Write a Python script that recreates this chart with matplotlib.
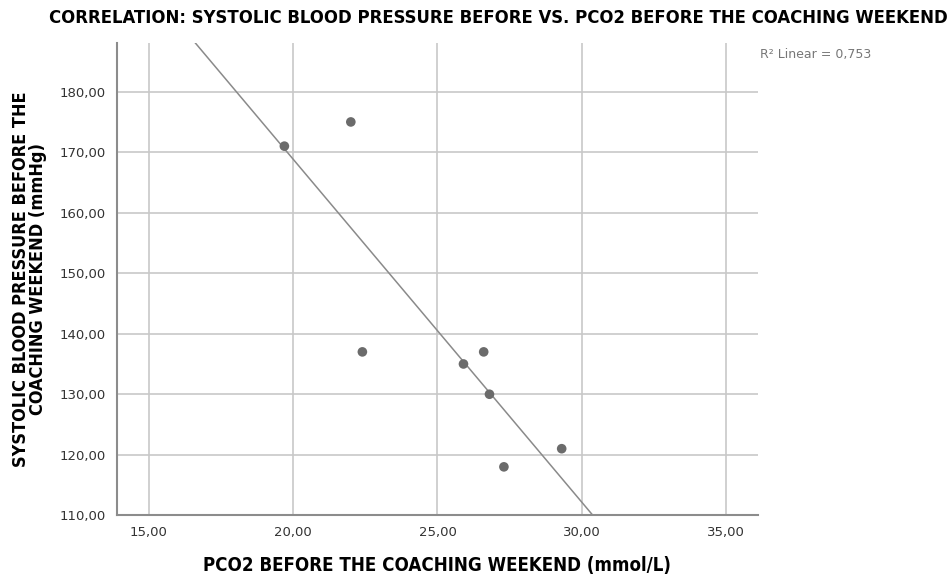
import numpy as np
import matplotlib.pyplot as plt
from matplotlib.ticker import FuncFormatter

# PCO2 (mmol/L) and systolic BP (mmHg) before the coaching weekend
pco2 = [19.7, 22.0, 22.4, 25.9, 26.6, 26.8, 29.3, 27.3]
sbp = [171, 175, 137, 135, 137, 130, 121, 118]
x_ticks = [15, 20, 25, 30, 35]
y_ticks = [110, 120, 130, 140, 150, 160, 170, 180]

x = np.array(pco2)
y = np.array(sbp)
slope, intercept = np.polyfit(x, y, 1)
r2 = np.corrcoef(x, y)[0, 1] ** 2

fig = plt.figure(figsize=(9.5, 5.77), dpi=100)
ax = fig.add_axes([0.123, 0.107, 0.675, 0.818])
xmin, xmax = 13.9, 36.1
ax.set_xlim(xmin, xmax)
ax.set_ylim(110, 188)

ax.grid(True, color='#c8c8c8', linewidth=1.2)
ax.set_axisbelow(True)
for s in ['top', 'right']:
    ax.spines[s].set_visible(False)
for s in ['left', 'bottom']:
    ax.spines[s].set_color('#8c8c8c')
    ax.spines[s].set_linewidth(1.5)

xs = np.array([xmin, xmax])
ax.plot(xs, slope * xs + intercept, color='#8a8a8a', linewidth=1.1, zorder=2)
ax.scatter(x, y, s=48, color='#6b6b6b', zorder=3, edgecolors='none')

comma = FuncFormatter(lambda v, p: f'{v:.2f}'.replace('.', ','))
ax.set_xticks(x_ticks)
ax.set_yticks(y_ticks)
ax.xaxis.set_major_formatter(comma)
ax.yaxis.set_major_formatter(comma)
ax.tick_params(length=0, labelsize=9.5, labelcolor='#333333', pad=8)

ax.set_xlabel('PCO2 BEFORE THE COACHING WEEKEND (mmol/L)', fontsize=13.4,
              fontweight='bold', fontstretch='condensed', labelpad=12)
ax.set_ylabel('SYSTOLIC BLOOD PRESSURE BEFORE THE\nCOACHING WEEKEND (mmHg)',
              fontsize=13, fontweight='bold', fontstretch='condensed',
              labelpad=9, linespacing=0.95)
fig.text(0.525, 0.984, 'CORRELATION: SYSTOLIC BLOOD PRESSURE BEFORE VS. PCO2 BEFORE THE COACHING WEEKEND',
         ha='center', va='top', fontsize=13.2, fontweight='bold', fontstretch='condensed')
fig.text(0.80, 0.905, f'R² Linear = {r2:.3f}'.replace('.', ','), fontsize=9,
         color='#777777', ha='left', va='center')

fig.savefig('out.png', dpi=100)
